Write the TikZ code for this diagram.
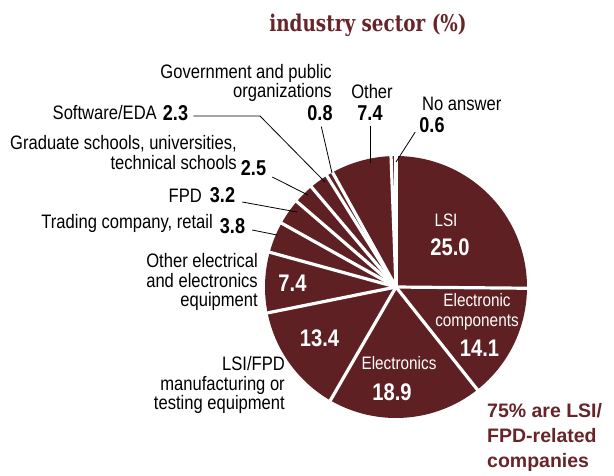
\documentclass[tikz,border=0pt]{standalone}
\usepackage{fontspec}
\setmainfont{Liberation Sans}
\newfontfamily\labf{Liberation Sans}[FakeStretch=0.85]
\newfontfamily\numf{Liberation Sans}[FakeStretch=0.84]
\newfontfamily\titf{DejaVu Serif Bold}[FakeStretch=0.8]
\definecolor{pie}{RGB}{94,32,35}
\definecolor{maroontext}{RGB}{104,36,40}
\begin{document}
\begin{tikzpicture}[x=1pt,y=-1pt,
  lab/.style={inner sep=0pt, font=\labf\fontsize{19.5}{19.5}\selectfont},
  num/.style={inner sep=0pt, font=\numf\bfseries\fontsize{21.5}{21.5}\selectfont},
  inlab/.style={inner sep=0pt, text=white, align=center, font=\labf\fontsize{18}{20}\selectfont},
  innum/.style={inner sep=0pt, text=white, font=\numf\bfseries\fontsize{24}{24}\selectfont},
  titlestyle/.style={inner sep=0pt, text=maroontext, font=\titf\fontsize{23}{23}\selectfont},
  note/.style={inner sep=0pt, align=left, text=maroontext, font=\bfseries\fontsize{19.5}{25}\selectfont},
  lead/.style={draw=black, line width=0.8pt},
  slice/.style={fill=pie},
  sep/.style={draw=white, line width=3.2pt},
]
\useasboundingbox (0,0) rectangle (614,475);
\coordinate (c) at (396,287);
% slices (angles clockwise from top)
\foreach \a/\b in {0/90.543,90.543/141.610,141.610/210.060,210.060/258.592,258.592/285.392,285.392/299.155,299.155/310.744,310.744/319.799,319.799/328.129,328.129/331.026,331.026/357.827,357.827/360}
  \fill[slice] (c) -- ++(\a-90:131) arc[start angle=\a-90, end angle=\b-90, radius=131] -- cycle;
\foreach \a in {0,90.543,141.610,210.060,258.592,285.392,299.155,310.744,319.799,328.129,331.026,357.827}
  \draw[sep] (c) -- ++(\a-90:134);

% title
\node[titlestyle] (title) at (368,25) {industry sector (\%)};

% outside labels
\node[lab, align=right, anchor=east] (gov) at (332,83) {Government and public\\organizations};
\node[num] (n08) at (320,113) {0.8};
\node[lab] (oth) at (372,92) {Other};
\node[num] (n74o) at (370,113) {7.4};
\node[lab, anchor=west] (na) at (422,104) {No answer};
\node[num] (n06) at (432,125) {0.6};
\node[lab, anchor=east] (sw) at (157,113) {Software/EDA};
\node[num] (n23) at (175.5,113) {2.3};
\node[lab, align=right, anchor=east] (grad) at (237,152.5) {Graduate schools, universities,\\technical schools};
\node[num] (n25) at (253.5,168) {2.5};
\node[lab, anchor=east] (fpd) at (202,196) {FPD};
\node[num] (n32) at (222.5,195) {3.2};
\node[lab, anchor=east] (trd) at (213,223) {Trading company, retail};
\node[num] (n38) at (232.5,226) {3.8};
\node[lab, align=right, anchor=east] (oee) at (258,282) {Other electrical\\and electronics\\equipment};
\node[lab, align=right, anchor=east] (lsifpd) at (285,385) {LSI/FPD\\manufacturing or\\testing equipment};

% inside labels
\node[inlab] (lsi) at (446,220) {LSI};
\node[innum] (n250) at (450,247) {25.0};
\node[inlab] (ec) at (477,312) {Electronic\\components};
\node[innum] (n141) at (479.5,348) {14.1};
\node[inlab] (el) at (399,363) {Electronics};
\node[innum] (n189) at (392,392) {18.9};
\node[innum] (n74i) at (292.5,283) {7.4};
\node[innum] (n134) at (319.5,338) {13.4};

% note
\node[note, anchor=west] (notes) at (487,437.5) {75\% are LSI/\\FPD-related\\companies};

% leader end points inside slices
\coordinate (swb) at (260,116);
\coordinate (psw) at (325,182);
\coordinate (pgov) at (332,173);
\coordinate (po) at (370,163);
\coordinate (pna) at (396,162);
\coordinate (p25) at (308,195);
\coordinate (p32) at (297,212);
\coordinate (p38) at (277,235);

\draw[lead] ([shift={(5,3)}]n23.east) -- (swb) -- (psw);
\draw[lead, shorten <=6pt] (n08.south) -- (pgov);
\draw[lead, shorten <=5pt] (n74o.south) -- (po);
\draw[lead] ([shift={(-4,7)}]n06.west) -- (pna);
\draw[lead] ([shift={(6,9)}]n25.east) -- (p25);
\draw[lead] ([shift={(7,7)}]n32.east) -- (p32);
\draw[lead] ([shift={(7,4)}]n38.east) -- (p38);
\end{tikzpicture}
\end{document}
